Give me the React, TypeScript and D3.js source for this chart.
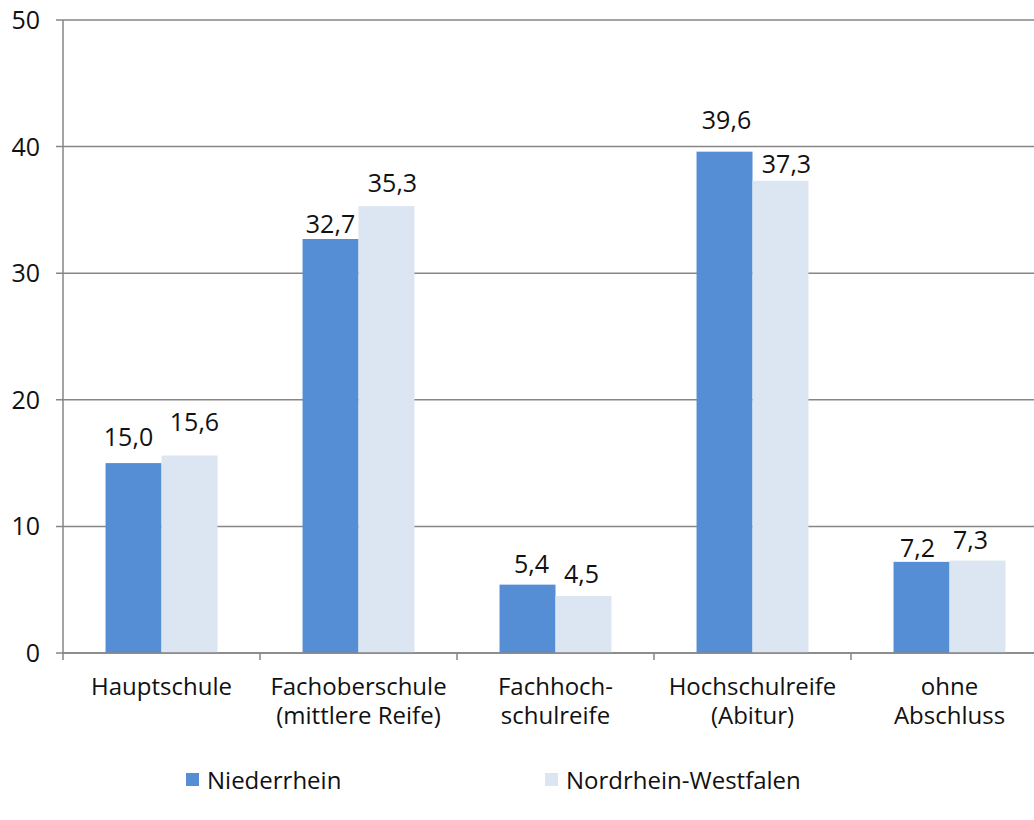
import React from "react";
import * as d3 from "d3";

const categories: string[][] = [
  ["Hauptschule"],
  ["Fachoberschule", "(mittlere Reife)"],
  ["Fachhoch-", "schulreife"],
  ["Hochschulreife", "(Abitur)"],
  ["ohne", "Abschluss"],
];
const seriesNames = ["Niederrhein", "Nordrhein-Westfalen"];
const niederrhein = [15.0, 32.7, 5.4, 39.6, 7.2];
const nrw = [15.6, 35.3, 4.5, 37.3, 7.3];
const yTicks = [0, 10, 20, 30, 40, 50];

// manual label nudges (layout only) [dx, dy above bar top]
const labelNudge: [number, number][][] = [
  [[-5, 17], [5, 25]],
  [[0, 6], [6, 14]],
  [[4, 12], [-2, 13]],
  [[2, 23], [6, 8]],
  [[-4, 5], [-7, 12]],
];

const W = 1034;
const H = 820;
const colors = ["#558ED5", "#DCE6F2"];
const FONT = "'Open Sans', sans-serif";

export default function App() {
  const left = 63;
  const band = 197;
  const x0 = d3
    .scaleBand<number>()
    .domain(categories.map((_, i) => i))
    .range([left, left + band * categories.length])
    .padding(0);
  const x1 = d3
    .scaleBand<string>()
    .domain(seriesNames)
    .range([0, x0.bandwidth()])
    .paddingInner(0)
    .paddingOuter(0.76);
  const y = d3.scaleLinear().domain([0, 50]).range([653, 20]);
  const values = [niederrhein, nrw];
  const fmt = (v: number) => v.toFixed(1).replace(".", ",");

  return (
    <div style={{ position: "absolute", left: 0, top: 0 }}>
      <svg width={W} height={H} style={{ display: "block", background: "#fff" }} fontFamily={FONT}>
        {/* gridlines */}
        {yTicks.map((t) => (
          <g key={t}>
            <line x1={56} x2={W} y1={y(t)} y2={y(t)} stroke="#868686" strokeWidth={1.5} />
            <text x={40} y={y(t)} dy={9} textAnchor="end" fontSize={25} fill="#111">
              {t}
            </text>
          </g>
        ))}
        {/* bars */}
        {categories.map((_, ci) =>
          seriesNames.map((s, si) => {
            const v = values[si][ci];
            const bx = (x0(ci) as number) + (x1(s) as number);
            return (
              <rect
                key={ci + "-" + si}
                x={bx}
                y={y(v)}
                width={x1.bandwidth()}
                height={y(0) - y(v)}
                fill={colors[si]}
              />
            );
          })
        )}
        {/* y axis */}
        <line x1={left} x2={left} y1={y(50)} y2={y(0)} stroke="#868686" strokeWidth={1.5} />
        <line x1={left} x2={W} y1={y(0)} y2={y(0)} stroke="#868686" strokeWidth={1.5} />
        {/* x ticks */}
        {categories.map((_, ci) => (
          <line
            key={"xt" + ci}
            x1={x0(ci) as number}
            x2={x0(ci) as number}
            y1={y(0)}
            y2={y(0) + 7}
            stroke="#868686"
            strokeWidth={1.5}
          />
        ))}
        {/* value labels */}
        {categories.map((_, ci) =>
          seriesNames.map((s, si) => {
            const v = values[si][ci];
            const cx = (x0(ci) as number) + (x1(s) as number) + x1.bandwidth() / 2;
            const [dx, dy] = labelNudge[ci][si];
            return (
              <text
                key={"l" + ci + "-" + si}
                x={cx + dx}
                y={y(v) - dy}
                textAnchor="middle"
                fontSize={25}
                fill="#111"
              >
                {fmt(v)}
              </text>
            );
          })
        )}
        {/* category labels */}
        {categories.map((lines, ci) => (
          <text
            key={"c" + ci}
            x={(x0(ci) as number) + x0.bandwidth() / 2}
            y={695}
            textAnchor="middle"
            fontSize={24}
            fill="#111"
          >
            {lines.map((ln, li) => (
              <tspan key={li} x={(x0(ci) as number) + x0.bandwidth() / 2} dy={li === 0 ? 0 : 29}>
                {ln}
              </tspan>
            ))}
          </text>
        ))}
        {/* legend */}
        {seriesNames.map((s, si) => {
          const lx = [186, 545][si];
          return (
            <g key={"lg" + s}>
              <rect x={lx} y={773} width={13} height={13} fill={colors[si]} />
              <text x={lx + 21} y={789} fontSize={24} fill="#111">
                {s}
              </text>
            </g>
          );
        })}
      </svg>
    </div>
  );
}
